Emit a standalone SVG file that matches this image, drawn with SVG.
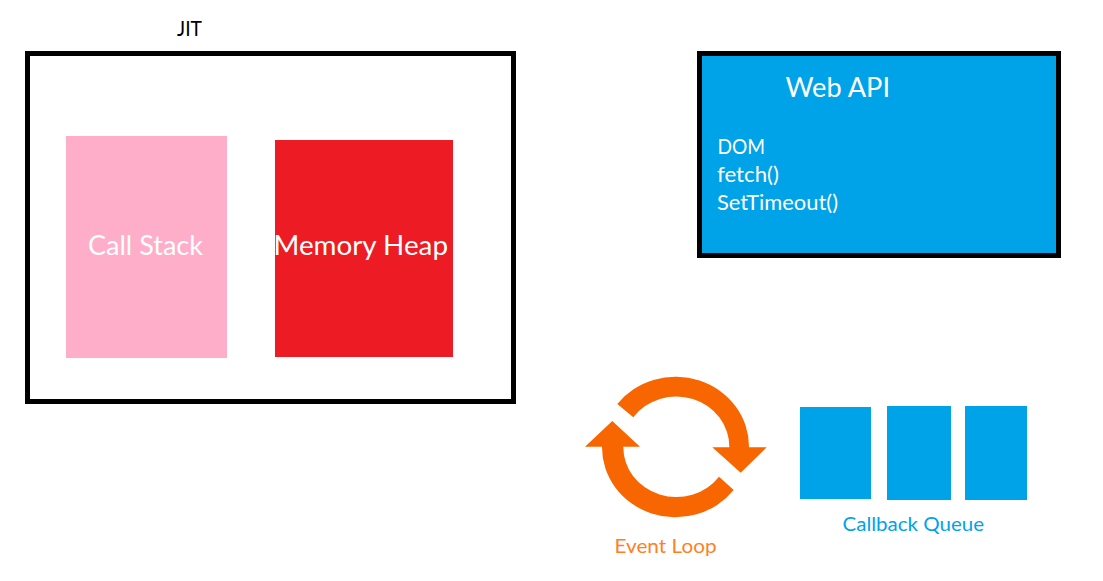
<svg xmlns="http://www.w3.org/2000/svg" width="1103" height="581" viewBox="0 0 1103 581">
<style>
text{font-family:"Lato","Carlito","Open Sans",sans-serif;fill:#fff}
.frame{stroke:#000;stroke-width:5}
.blue{fill:#00a2e8}
.loop{fill:#f76600}
.big{font-size:27px}
.mid{font-size:20.5px}
.small{font-size:19.5px}
</style>
<rect width="1103" height="581" fill="#fff"/>
<g id="jit">
<rect class="frame" x="27.5" y="53.5" width="486" height="348" fill="#fff"/>
<text x="177" y="36" font-size="20.5" style="fill:#000" textLength="25" lengthAdjust="spacingAndGlyphs">JIT</text>
</g>
<g id="call-stack">
<rect x="66" y="136" width="161" height="222" fill="#ffaec9"/>
<text class="big" x="88" y="255" textLength="115" lengthAdjust="spacingAndGlyphs">Call Stack</text>
</g>
<g id="memory-heap">
<rect x="275" y="140" width="178" height="217" fill="#ed1c24"/>
<text class="big" x="273.5" y="254.5" textLength="174.5" lengthAdjust="spacingAndGlyphs">Memory Heap</text>
</g>
<g id="web-api">
<rect class="frame blue" x="699.5" y="53.5" width="359" height="202"/>
<text class="big" x="785.5" y="97" textLength="104.5" lengthAdjust="spacingAndGlyphs">Web API</text>
<text class="mid" x="717.5" y="154" textLength="47.5" lengthAdjust="spacingAndGlyphs">DOM</text>
<text class="mid" x="717" y="182" textLength="62" lengthAdjust="spacingAndGlyphs">fetch()</text>
<text class="mid" x="717" y="210" textLength="121" lengthAdjust="spacingAndGlyphs">SetTimeout()</text>
</g>
<g id="event-loop">
<path class="loop" d="M617.3 404A73.5 70 0 0 1 749 447.3H766.7L740.7 472.7L712.3 447.3H729.3A53 50 0 0 0 633.3 417.3Z"/>
<path class="loop" d="M733.7 490A73.5 70 0 0 1 602 446.7H585L612.3 421L640 446.7H623.3A53 50 0 0 0 719 476.7Z"/>
<text class="small" x="614.5" y="552.5" style="fill:#ff7f27" textLength="102" lengthAdjust="spacingAndGlyphs">Event Loop</text>
</g>
<g id="callback-queue">
<rect class="blue" x="800" y="407" width="71" height="92"/>
<rect class="blue" x="887" y="406" width="64" height="94"/>
<rect class="blue" x="965" y="406" width="62" height="94"/>
<text class="small" x="842.5" y="530.5" style="fill:#00a2e8" textLength="141.5" lengthAdjust="spacingAndGlyphs">Callback Queue</text>
</g>
</svg>
